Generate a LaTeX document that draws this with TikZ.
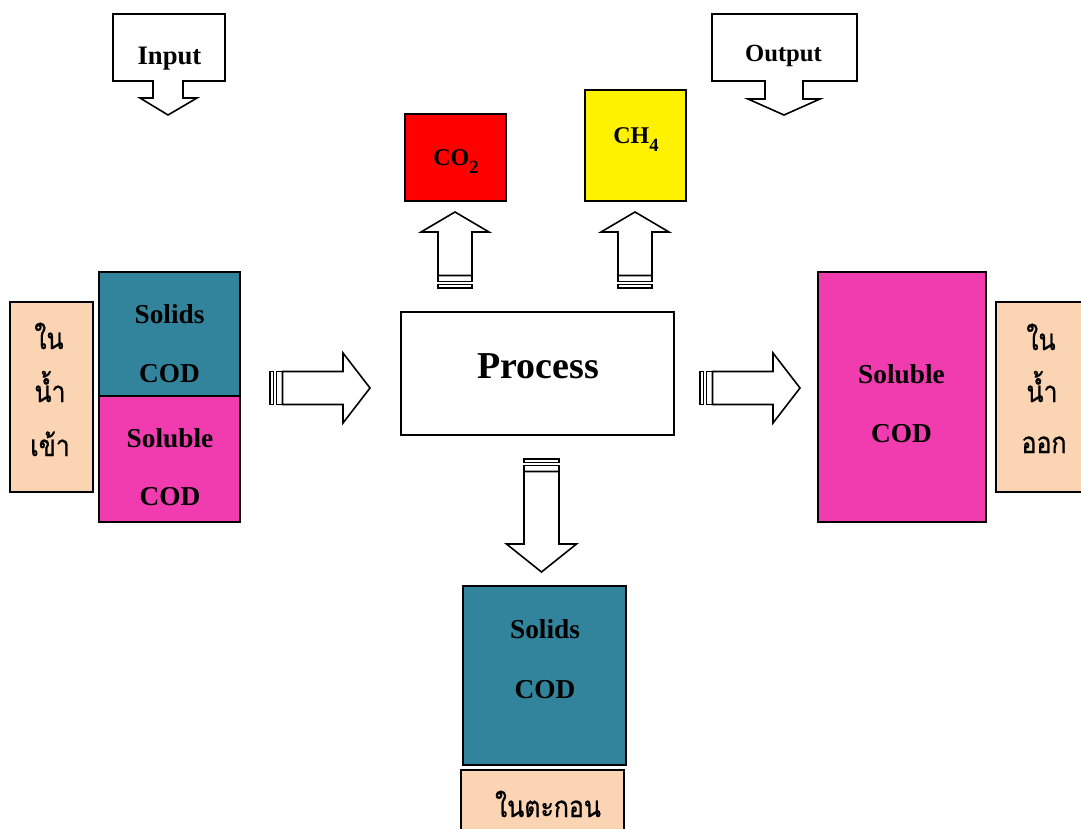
\documentclass[tikz,border=0pt]{standalone}
\usepackage{fontspec}
\setmainfont{Liberation Serif}
\newfontfamily\thaifont[Script=Thai,FakeStretch=0.85,FakeBold=0.8]{Loma}

\definecolor{solidsteal}{HTML}{31849B}
\definecolor{solublepink}{HTML}{F03CAF}
\definecolor{waterpeach}{HTML}{FBD4B4}

\tikzset{
  box/.style={draw=black, line width=1.2pt, inner sep=0pt},
  lbl/.style={font=\bfseries\fontsize{20.5}{20.5}\selectfont, anchor=base, inner sep=0pt},
  gas/.style={font=\bfseries\fontsize{18}{18}\selectfont, anchor=base, inner sep=0pt},
  thai/.style={font=\thaifont\fontsize{22}{22}\selectfont, anchor=base, inner sep=0pt},
  blockarrow/.style={draw=black, line width=1.2pt, fill=white, line join=miter},
}

% chemical index set low and large
\newcommand\chemidx[1]{\raisebox{-6pt}{\fontsize{14}{14}\selectfont #1}}

% striped block arrow: #1 tail point, #2 direction angle, #3 length,
% #4 head length, #5 shaft half width, #6 head half width
\newcommand\stripedarrow[6]{%
  \begin{scope}[shift={#1}, rotate=#2]
    \draw[blockarrow] (0,-#5) rectangle (3.5,#5);
    \draw[blockarrow] (6.5,-#5) rectangle (12.5,#5);
    \draw[blockarrow] (12.5,-#5) -- ({#3-#4},-#5) -- ({#3-#4},-#6) -- (#3,0)
      -- ({#3-#4},#6) -- ({#3-#4},#5) -- (12.5,#5) -- cycle;
  \end{scope}}

\begin{document}
\begin{tikzpicture}[x=0.75pt,y=-0.75pt]
\useasboundingbox (0,0) rectangle (1081,828);
\clip (0,0) rectangle (1081,828);

% Input / Output callouts
\draw[blockarrow] (113,14) -- (225,14) -- (225,81) -- (183,81) -- (183,98) -- (197,98)
  -- (168,115) -- (140,98) -- (153,98) -- (153,81) -- (113,81) -- cycle;
\node[lbl, font=\bfseries\fontsize{20}{20}\selectfont] (input) at (169.5,64) {Input};
\draw[blockarrow] (712,14) -- (857,14) -- (857,81) -- (803,81) -- (803,99) -- (820,99)
  -- (784,115) -- (748,99) -- (765,99) -- (765,81) -- (712,81) -- cycle;
\node[lbl, font=\bfseries\fontsize{18.5}{18.5}\selectfont] (output) at (783.5,61) {Output};

% gas products
\node[box, fill=red, minimum width=75.75pt, minimum height=65.25pt] (co2) at (455.5,157.5) {};
\node[gas] (co2t) at (456,165) {CO\chemidx{2}};
\node[box, fill=yellow, minimum width=75.75pt, minimum height=83.25pt] (ch4) at (635.5,145.5) {};
\node[gas] (ch4t) at (636,143) {CH\chemidx{4}};

% influent
\node[box, fill=waterpeach, minimum width=62.25pt, minimum height=142.5pt] (inflow) at (51.5,397) {};
\node[thai] (in1) at (49,349) {ใน};
\node[thai] (in2) at (50,402) {น้ำ};
\node[thai] (in3) at (50,456) {เข้า};
\node[box, fill=solidsteal, minimum width=105.75pt, minimum height=93pt] (insolids) at (169.5,334) {};
\node[lbl] (insolidsa) at (169.5,323) {Solids};
\node[lbl] (insolidsb) at (169.5,382) {COD};
\node[box, fill=solublepink, minimum width=105.75pt, minimum height=94.5pt] (insoluble) at (169.5,459) {};
\node[lbl] (insolublea) at (170,447) {Soluble};
\node[lbl] (insolubleb) at (170,505) {COD};

% process
\node[box, fill=white, minimum width=204.75pt, minimum height=92.25pt] (process) at (537.5,373.5) {};
\node[lbl, font=\bfseries\fontsize{28.5}{28.5}\selectfont] (processt) at (538,378) {Process};

% effluent
\node[box, fill=solublepink, minimum width=126pt, minimum height=187.5pt] (outsoluble) at (902,397) {};
\node[lbl] (outsolublea) at (901.5,383) {Soluble};
\node[lbl] (outsolubleb) at (901.5,442) {COD};
\node[box, fill=waterpeach, minimum width=74.25pt, minimum height=142.5pt] (outflow) at (1045.5,397) {};
\node[thai] (out1) at (1041,350) {ใน};
\node[thai] (out2) at (1042,402) {น้ำ};
\node[thai] (out3) at (1044,453) {ออก};

% sludge
\node[box, fill=solidsteal, minimum width=122.25pt, minimum height=134.25pt] (sludge) at (544.5,675.5) {};
\node[lbl] (sludgea) at (545,638) {Solids};
\node[lbl] (sludgeb) at (545,698) {COD};
\node[box, fill=waterpeach, minimum width=122.25pt, minimum height=52.5pt] (sludgebox) at (542.5,805) {};
\node[thai] (sludget) at (548,817) {ในตะกอน};

% flows
\stripedarrow{(270,388)}{0}{100}{27}{16.5}{35}
\stripedarrow{(700,388)}{0}{100}{27}{16.5}{35}
\stripedarrow{(455,288)}{90}{76}{20}{17}{34}
\stripedarrow{(635,288)}{90}{76}{20}{17}{34}
\stripedarrow{(541.5,459)}{-90}{113}{28}{17.5}{35}
\end{tikzpicture}
\end{document}
